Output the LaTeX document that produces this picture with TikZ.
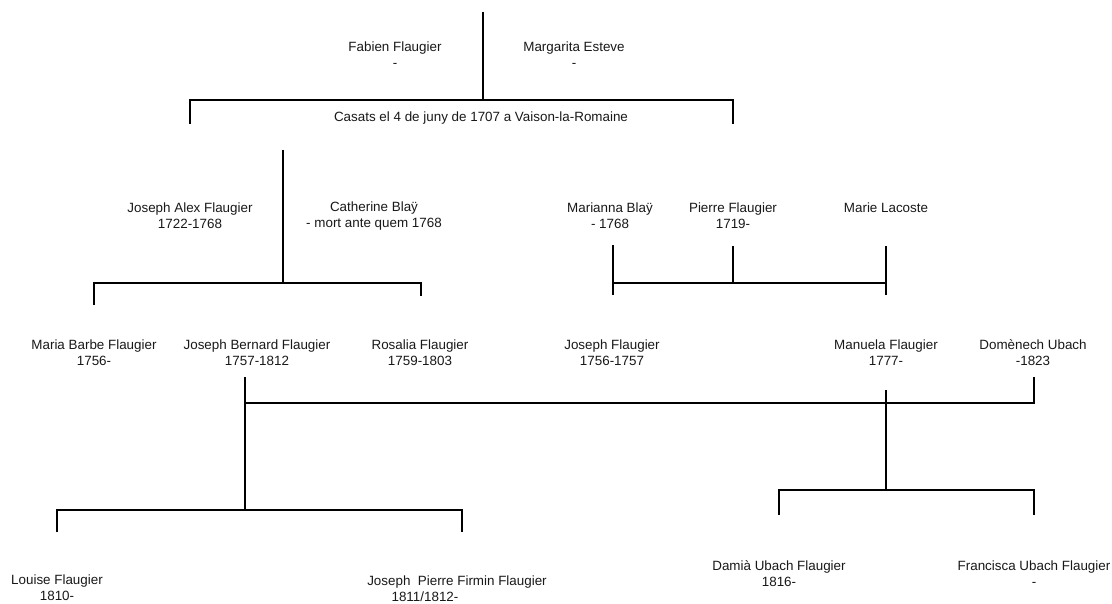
\documentclass[tikz,border=0pt]{standalone}
\usepackage{fontspec}
\setmainfont{Liberation Sans}
\begin{document}
\begin{tikzpicture}[x=1bp,y=-1bp,
  person/.style={align=center,inner sep=0pt,font=\fontsize{13.4bp}{16bp}\selectfont,text=black!90},
  link/.style={line width=2.6bp,line cap=butt,black}]
\useasboundingbox[fill=white] (0,0) rectangle (1112,604);
% persons
\node[person] (ff) at (395,55) {Fabien Flaugier\\-};
\node[person] (me) at (574,55) {Margarita Esteve\\-};
\node[person] (cas) at (481,118) {Casats el 4 de juny de 1707 a Vaison-la-Romaine};
\node[person] (jaf) at (190,216) {Joseph Alex Flaugier\\1722-1768};
\node[person] (cb) at (374,216) {Catherine Bla\"y\\- mort ante quem 1768};
\node[person] (mb) at (610,216) {Marianna Bla\"y\\- 1768};
\node[person] (pf) at (733,216) {Pierre Flaugier\\1719-};
\node[person] (ml) at (886,208) {Marie Lacoste};
\node[person] (mbf) at (94,353) {Maria Barbe Flaugier\\1756-};
\node[person] (jbf) at (257,353) {Joseph Bernard Flaugier\\1757-1812};
\node[person] (rf) at (420,353) {Rosalia Flaugier\\1759-1803};
\node[person] (jf) at (612,353) {Joseph Flaugier\\1756-1757};
\node[person] (mf) at (886,353) {Manuela Flaugier\\1777-};
\node[person] (du) at (1033,353) {Dom\`enech Ubach\\-1823};
\node[person] (lf) at (57,588) {Louise Flaugier\\1810-};
\node[person] (jpf) at (457,589) {Joseph~~Pierre Firmin Flaugier\\\hspace*{-64bp}1811/1812-};
\node[person] (duf) at (779,574) {Dami\`a Ubach Flaugier\\1816-};
\node[person] (fuf) at (1034,574) {Francisca Ubach Flaugier\\-};
% junction coordinates
\coordinate (t0) at (483,12);
\coordinate (t1) at (483,100);
\coordinate (tl) at (190,100);
\coordinate (tr) at (733,100);
\coordinate (tlb) at (190,124);
\coordinate (trb) at (733,124);
\coordinate (a0) at (283,150);
\coordinate (a1) at (283,283);
\coordinate (al) at (94,283);
\coordinate (ar) at (421,283);
\coordinate (alb) at (94,305);
\coordinate (arb) at (421,296);
\coordinate (b1) at (613,245);
\coordinate (b1b) at (613,295);
\coordinate (b2) at (733,246);
\coordinate (b2b) at (733,283);
\coordinate (b3) at (886,246);
\coordinate (b3b) at (886,295);
\coordinate (m1) at (245,377);
\coordinate (m1b) at (245,403);
\coordinate (m2) at (1034,377);
\coordinate (m2b) at (1034,403);
\coordinate (m3) at (245,510);
\coordinate (ll) at (57,510);
\coordinate (lr) at (462,510);
\coordinate (llb) at (57,532);
\coordinate (lrb) at (462,532);
\coordinate (r0) at (886,390);
\coordinate (r1) at (886,490);
\coordinate (rl) at (779,490);
\coordinate (rr) at (1034,490);
\coordinate (rlb) at (779,515);
\coordinate (rrb) at (1034,515);
% connectors
\draw[link] (t0) -- (t1);
\draw[link] (tlb) -- (tl) -- (tr) -- (trb);
\draw[link] (a0) -- (a1);
\draw[link] (alb) -- (al) -- (ar) -- (arb);
\draw[link] (b1) -- (b1b);
\draw[link] (b2) -- (b2b);
\draw[link] (b3) -- (b3b);
\draw[link] (b1b |- b2b) -- (b3b |- b2b);
\draw[link] (m1) -- (m3);
\draw[link] (m1b) -- (m2b) -- (m2);
\draw[link] (r0) -- (r1);
\draw[link] (llb) -- (ll) -- (lr) -- (lrb);
\draw[link] (rlb) -- (rl) -- (rr) -- (rrb);
\end{tikzpicture}
\end{document}
